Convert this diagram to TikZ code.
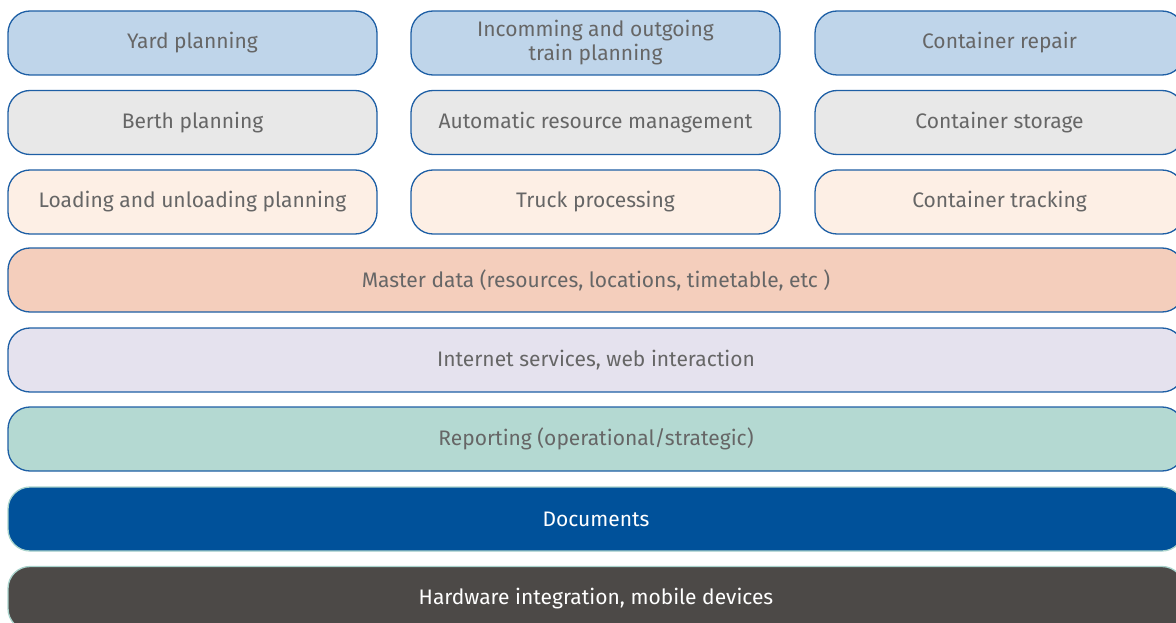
\documentclass[tikz,border=0pt]{standalone}
\usepackage{fontspec}
\setmainfont{Fira Sans}
\definecolor{edgeblue}{HTML}{1E5FA5}
\definecolor{edgeteal}{HTML}{A9D3CC}
\definecolor{txtgray}{HTML}{666666}
\definecolor{fillblue}{HTML}{BFD5EA}
\definecolor{fillgray}{HTML}{E8E8E8}
\definecolor{fillpeach}{HTML}{FDEFE5}
\definecolor{fillsalmon}{HTML}{F4CEBC}
\definecolor{filllilac}{HTML}{E5E2EE}
\definecolor{fillmint}{HTML}{B4D9D2}
\definecolor{filldoc}{HTML}{00519A}
\definecolor{fillhw}{HTML}{4C4947}
\tikzset{
  tile/.style={draw=edgeblue, line width=1.3pt, rounded corners=22pt,
    minimum height=64pt, inner sep=0pt, outer sep=0pt, align=center,
    text=txtgray, font=\fontsize{21}{24}\selectfont},
  narrow/.style={tile, minimum width=369pt},
  wide/.style={tile, minimum width=1176pt},
  darkbar/.style={wide, draw=edgeteal, text=white},
}
\begin{document}
\begin{tikzpicture}[x=1pt,y=-1pt]
\useasboundingbox (0,0) rectangle (1176,623);
\clip (0,0) rectangle (1176,623);
% three columns of service modules
\node[narrow, fill=fillblue]  (yard)   at (192.5,43)  {Yard planning};
\node[narrow, fill=fillblue]  (train)  at (595.5,43)  {Incomming and outgoing\\train planning};
\node[narrow, fill=fillblue]  (repair) at (999.5,43)  {Container repair};
\node[narrow, fill=fillgray]  (berth)  at (192.5,122.5) {Berth planning};
\node[narrow, fill=fillgray]  (arm)    at (595.5,122.5) {Automatic resource management};
\node[narrow, fill=fillgray]  (store)  at (999.5,122.5) {Container storage};
\node[narrow, fill=fillpeach] (load)   at (192.5,202) {Loading and unloading planning};
\node[narrow, fill=fillpeach] (truck)  at (595.5,202) {Truck processing};
\node[narrow, fill=fillpeach] (track)  at (999.5,202) {Container tracking};
% shared layers
\node[wide, fill=fillsalmon] (master) at (596,280)   {Master data (resources, locations, timetable, etc )};
\node[wide, fill=filllilac]  (web)    at (596,360)   {Internet services, web interaction};
\node[wide, fill=fillmint]   (report) at (596,439)   {Reporting (operational/strategic)};
\node[darkbar, fill=filldoc] (docs)   at (596,519)   {Documents};
\node[darkbar, fill=fillhw]  (hw)     at (596,598.5) {Hardware integration, mobile devices};
\end{tikzpicture}
\end{document}
